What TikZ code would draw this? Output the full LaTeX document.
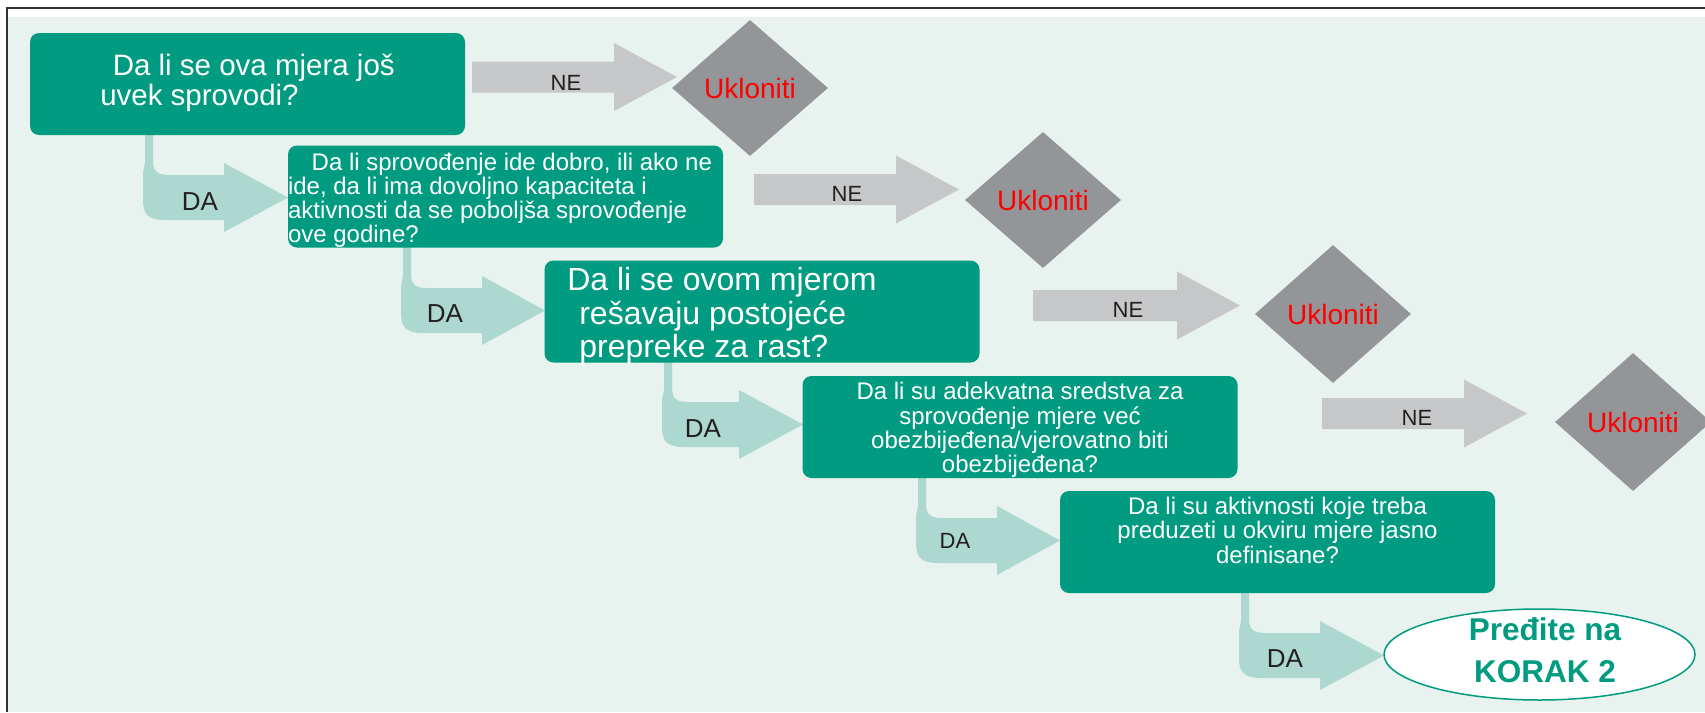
\documentclass[tikz,border=0pt]{standalone}
\usepackage{fontspec}
\setmainfont{Liberation Sans}
\usetikzlibrary{shapes.geometric}
\definecolor{bgmint}{HTML}{E8F2EE}
\definecolor{qteal}{HTML}{009B80}
\definecolor{dagreen}{HTML}{ADD8CF}
\definecolor{negray}{HTML}{C6C7C9}
\definecolor{dmgray}{HTML}{939598}
\definecolor{ukred}{HTML}{FF0000}
\definecolor{lbl}{HTML}{231F20}
\newcommand{\Lrows}[1]{\halign{##\hfil\cr#1\crcr}}
\newcommand{\Crows}[1]{\halign{\hfil##\hfil\cr#1\crcr}}
\newcommand{\qtext}[3]{\smash{\raisebox{#1}{\vtop{\lineskiplimit=-99pt\lineskip=0pt\baselineskip=#2\relax#3}}}}
\newcommand{\negarrow}[3]{\fill[negray] (#1,{#2-15.5}) -- ({#3-63},{#2-15.5}) -- ({#3-63},{#2-34}) -- (#3,#2) -- ({#3-63},{#2+34}) -- ({#3-63},{#2+15.5}) -- (#1,{#2+15.5}) -- cycle;}
\newcommand{\daarrow}[4]{\fill[dagreen] (#1,{#2-6}) -- (#1,{#2+28}) -- ({#1-2},{#2+38}) -- ({#1-2},{#2+65}) .. controls ({#1-2},{#2+80}) and ({#1+4},{#2+85}) .. ({#1+20},{#2+85}) -- (#3,{#2+85}) -- (#3,{#2+97}) -- (#4,{#2+62.5}) -- (#3,{#2+28}) -- (#3,{#2+40}) -- ({#1+24},{#2+40}) .. controls ({#1+12},{#2+40}) and ({#1+8},{#2+36}) .. ({#1+8},{#2+26}) -- ({#1+8},{#2-6}) -- cycle;}
\begin{document}
\begin{tikzpicture}[x=1pt,y=-1pt,
  qbox/.style={rectangle, rounded corners=9pt, fill=qteal, text=white, minimum width=435pt, minimum height=102pt, inner sep=0pt},
  ukd/.style={diamond, fill=dmgray, text=ukred, minimum width=156pt, minimum height=136pt, inner sep=0pt, font=\fontsize{28}{32}\selectfont},
  nelbl/.style={text=lbl, inner sep=0pt, font=\fontsize{22}{26}\selectfont, text height=15.75pt, text depth=0pt},
  dalbl/.style={text=lbl, inner sep=0pt, font=\fontsize{26}{30}\selectfont, text height=18.6pt, text depth=0pt},
  goalshape/.style={ellipse, draw=qteal, line width=1.5pt, fill=white, text=qteal, minimum width=311pt, minimum height=91pt, inner sep=0pt, font=\bfseries\fontsize{31.5}{36}\selectfont}]
\useasboundingbox (0,0) rectangle (1705,712);
% frame and background
\fill[white] (0,0) rectangle (1705,712);
\fill[bgmint] (8,17) rectangle (1705,712);
\draw[black!80, line width=2.2pt] (7,712) -- (7,7.6) -- (1705,7.6);
% DA arrows (bent, light green)
\daarrow{145}{135}{224}{288}
\daarrow{403}{248}{482}{545}
\daarrow{664}{362}{739}{803}
\daarrow{918}{478}{997}{1060}
\daarrow{1241}{593}{1320}{1384}
% NE arrows (gray)
\negarrow{472}{77}{677}
\negarrow{754}{189.5}{959}
\negarrow{1033}{305.5}{1240}
\negarrow{1322}{413.5}{1527}
% question boxes
\node[qbox, font=\fontsize{29.5}{30}\selectfont] (b1) at (247.5,84)
  {\qtext{8.5pt}{30pt}{\Lrows{\hspace*{12.5pt}Da li se ova mjera još\cr uvek sprovodi?}}};
\node[qbox, font=\fontsize{24}{24}\selectfont] (b2) at (505.5,196.5)
  {\qtext{26pt}{24pt}{\Lrows{\hspace*{23.7pt}Da li sprovođenje ide dobro, ili ako ne\cr ide, da li ima dovoljno kapaciteta i\cr aktivnosti da se poboljša sprovođenje\cr ove godine?}}\hspace*{11pt}};
\node[qbox, font=\fontsize{32}{33}\selectfont] (b3) at (762,311.5)
  {\qtext{21pt}{33.7pt}{\Lrows{Da li se ovom mjerom\cr \hspace*{12pt}rešavaju postojeće\cr \hspace*{12pt}prepreke za rast?}}\hspace*{80pt}};
\node[qbox, font=\fontsize{24}{25}\selectfont] (b4) at (1020,427)
  {\qtext{27.3pt}{24.3pt}{\Crows{Da li su adekvatna sredstva za\cr sprovođenje mjere već\cr obezbijeđena/vjerovatno biti\cr obezbijeđena?}}};
\node[qbox, font=\fontsize{24}{24}\selectfont] (b5) at (1277.5,542)
  {\qtext{27.3pt}{24.2pt}{\Crows{Da li su aktivnosti koje treba\cr preduzeti u okviru mjere jasno\cr definisane?}}};
% remove diamonds
\node[ukd] (d1) at (750,88) {Ukloniti};
\node[ukd] (d2) at (1043,200) {Ukloniti};
\node[ukd, minimum height=138pt] (d3) at (1333,314) {Ukloniti};
\node[ukd, minimum height=138pt] (d4) at (1633,422) {Ukloniti};
% goal
\node[goalshape] (goal) at (1539.5,654.5)
  {\hspace*{11pt}\qtext{14.5pt}{42pt}{\Crows{Pređite na\cr KORAK 2}}};
% arrow labels
\node[nelbl] (ne1) at (566,83) {NE};
\node[nelbl] (ne2) at (847,194) {NE};
\node[nelbl] (ne3) at (1128,310) {NE};
\node[nelbl] (ne4) at (1417,418) {NE};
\node[dalbl] (da1) at (200,201.5) {DA};
\node[dalbl] (da2) at (445,313) {DA};
\node[dalbl] (da3) at (703,428) {DA};
\node[dalbl, font=\fontsize{22}{26}\selectfont, text height=15.8pt] (da4) at (955,541) {DA};
\node[dalbl] (da5) at (1285,658) {DA};
\end{tikzpicture}
\end{document}
